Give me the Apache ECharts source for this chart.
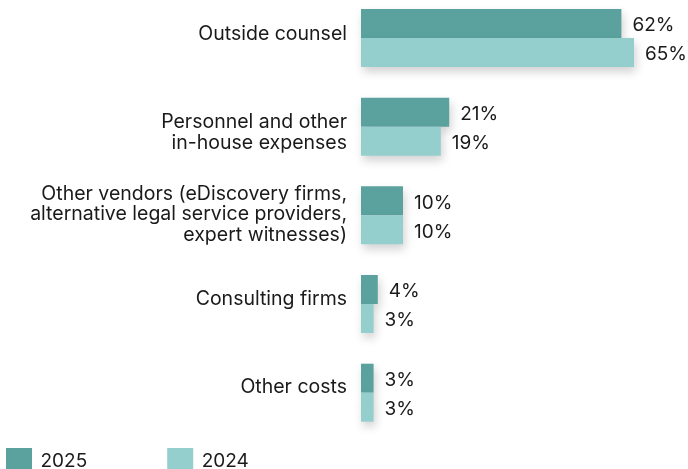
<!DOCTYPE html>
<html><head><meta charset="utf-8">
<script src="https://cdn.jsdelivr.net/npm/echarts@6/dist/echarts.min.js"></script>
<style>html,body{margin:0;padding:0;background:#fff}#c{width:688px;height:469px}</style>
</head><body><div id="c"></div>
<script>
const categories = [
  "Outside counsel",
  "Personnel and other\nin-house expenses",
  "Other vendors (eDiscovery firms,\nalternative legal service providers,\nexpert witnesses)",
  "Consulting firms",
  "Other costs"
];
const values2025 = [62, 21, 10, 4, 3];
const values2024 = [65, 19, 10, 3, 3];
const seriesNames = ["2025", "2024"];
const colors = ["#5ba29f", "#94cfce"];

// per-label vertical nudges (px, + = down) to match reference label placement
const labelShift = [-4, 6, -1, -5, -6];

const FONT = "Inter";
const FS = 19.5;
const chart = echarts.init(document.getElementById('c'), null, {renderer: 'canvas'});
const barStyle = (c) => ({
  color: c,
  shadowColor: 'rgba(0,0,0,0.18)',
  shadowBlur: 10,
  shadowOffsetY: 5,
  shadowOffsetX: 2
});
const lab = {
  show: true, position: 'right', distance: 11,
  formatter: '{c}%', color: '#1a1a1a', fontFamily: FONT, fontSize: 19,
  offset: [0, 2]
};
const rich = {
  t: {fontFamily: FONT, fontSize: FS, lineHeight: 20.5, color: '#1a1a1a', align: 'right'}
};
labelShift.forEach((s) => {
  const h = Math.abs(s) * 2;
  if (h) rich['g' + h] = {fontSize: 1, lineHeight: h, align: 'right'};
});
chart.setOption({
  animation: false,
  grid: {left: 361, right: 0, top: 38, height: 354.7, containLabel: false},
  xAxis: {type: 'value', min: 0, max: (327/4.2), show: false},
  yAxis: {
    type: 'category', data: categories, inverse: true, boundaryGap: false,
    axisLine: {show: false}, axisTick: {show: false}, splitLine: {show: false},
    axisLabel: {
      margin: 14, color: '#1a1a1a', fontFamily: FONT, fontSize: FS, lineHeight: 20.5, align: 'right',
      formatter: (val, idx) => {
        const body = val.split('\n').map(l => '{t|' + l + '}').join('\n');
        const s = labelShift[idx];
        const h = Math.abs(s) * 2;
        if (!h) return body;
        const gap = '{g' + h + '| }';
        return s > 0 ? gap + '\n' + body : body + '\n' + gap;
      },
      rich: rich
    }
  },
  legend: {
    left: 6, top: 448, padding: 0, itemWidth: 26, itemHeight: 26, itemGap: 80,
    icon: 'rect',
    textStyle: {fontFamily: FONT, fontSize: 19, color: '#1a1a1a', padding: [0, 0, 0, 3.5]},
    data: seriesNames
  },
  series: [
    {name: seriesNames[0], type: 'bar', data: values2025, barGap: '0%', barWidth: 29, clip: false,
     itemStyle: barStyle(colors[0]), label: lab},
    {name: seriesNames[1], type: 'bar', data: values2024, barGap: '0%', barWidth: 29, clip: false,
     itemStyle: barStyle(colors[1]), label: lab}
  ]
});
</script></body></html>
